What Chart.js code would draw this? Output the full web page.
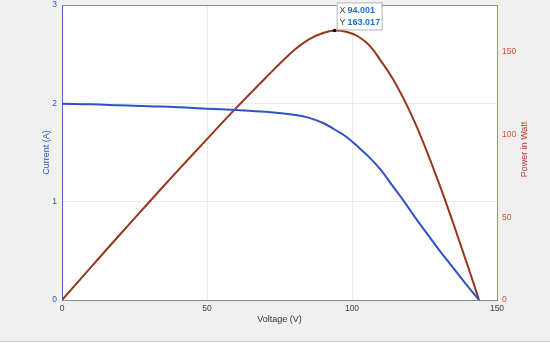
<!DOCTYPE html>
<html>
<head>
<meta charset="utf-8">
<script src="https://cdn.jsdelivr.net/npm/chart.js@4.4.1/dist/chart.umd.min.js"></script>
<style>
  html, body { margin: 0; padding: 0; background: #f0f0f0; }
  #wrap { width: 550px; height: 345px; }
</style>
</head>
<body>
<div id="wrap"><canvas id="ivChart" width="550" height="345"></canvas></div>
<script>
// values
const voltage = [0, 10, 20, 30, 40, 50, 60, 70, 80, 85, 90, 94, 98, 102, 106, 110, 114, 118, 122, 126, 130, 134, 138, 141, 143.8]
const currentA = [1.995, 1.99, 1.98, 1.97, 1.96, 1.945, 1.932, 1.915, 1.885, 1.855, 1.80, 1.734, 1.66, 1.56, 1.45, 1.32, 1.16, 1.00, 0.83, 0.67, 0.51, 0.36, 0.21, 0.10, 0]
const powerW = [0, 19.9, 39.6, 59.1, 78.4, 97.3, 116, 134, 151, 157.5, 161.5, 163, 162.2, 159.5, 154, 144.5, 134, 121, 106, 89, 70.5, 51, 30.5, 15, 0]

const xTicks = [0, 50, 100, 150]
const leftTicks = [0, 1, 2, 3]
const rightTicks = [0, 50, 100, 150]
const rightMax = 178.4

const tipX = 94.001
const tipY = 163.017

const xTitle = 'Voltage (V)'
const leftTitle = 'Current (A)'
const rightTitle = 'Power in Watt'

const FONT = "'Liberation Sans', Arial, Helvetica, sans-serif"
const BLUE = '#2f52c4'
const RED = '#98361a'

function pts(ys) {
  return voltage.map((v, i) => ({ x: v, y: ys[i] }))
}

const framePlugin = {
  id: 'frame',
  beforeDraw(chart) {
    const { ctx, chartArea: a, width, height } = chart
    ctx.save()
    ctx.fillStyle = '#f0f0f0'
    ctx.fillRect(0, 0, width, height)
    ctx.fillStyle = '#ffffff'
    ctx.fillRect(a.left, a.top, a.right - a.left, a.bottom - a.top)
    ctx.fillRect(0, 342, width, height - 342)
    ctx.strokeStyle = '#c8c8c8'
    ctx.beginPath()
    ctx.moveTo(0, 341.5)
    ctx.lineTo(width, 341.5)
    ctx.stroke()
    ctx.restore()
  },
  afterDraw(chart) {
    const { ctx, chartArea: a, scales } = chart
    ctx.save()
    // top border
    ctx.strokeStyle = '#8a8a8a'
    ctx.lineWidth = 1
    ctx.beginPath()
    ctx.moveTo(a.left, a.top + 0.5)
    ctx.lineTo(a.right, a.top + 0.5)
    ctx.stroke()

    // axis titles
    ctx.font = '9px ' + FONT
    ctx.textAlign = 'center'
    ctx.textBaseline = 'middle'
    ctx.fillStyle = '#333333'
    ctx.fillText(xTitle, (a.left + a.right) / 2, 320)

    const midY = (a.top + a.bottom) / 2
    ctx.save()
    ctx.translate(47, midY)
    ctx.rotate(-Math.PI / 2)
    ctx.fillStyle = '#3556b0'
    ctx.fillText(leftTitle, 0, 0)
    ctx.restore()

    ctx.save()
    ctx.translate(525, midY - 3)
    ctx.rotate(-Math.PI / 2)
    ctx.fillStyle = '#c0392b'
    ctx.fillText(rightTitle, 0, 0)
    ctx.restore()

    // data tip
    const px = scales.x.getPixelForValue(tipX)
    const py = scales.y1.getPixelForValue(tipY)
    ctx.fillStyle = '#000000'
    ctx.beginPath()
    ctx.arc(px, py, 1.8, 0, Math.PI * 2)
    ctx.fill()

    const bx = px + 2, by = Math.max(0, py - 28), bw = 45, bh = py - by - 1
    ctx.fillStyle = '#ffffff'
    ctx.fillRect(bx, by, bw, bh)
    ctx.strokeStyle = '#b4b4b4'
    ctx.strokeRect(bx + 0.5, by + 0.5, bw, bh)

    ctx.textAlign = 'left'
    ctx.font = '9px ' + FONT
    ctx.fillStyle = '#444444'
    ctx.fillText('X', bx + 3, by + 8)
    ctx.fillText('Y', bx + 3, by + 20)
    ctx.font = 'bold 9px ' + FONT
    ctx.fillStyle = '#1f6fd6'
    ctx.fillText(tipX.toFixed(3), bx + 11, by + 8)
    ctx.fillText(tipY.toFixed(3), bx + 11, by + 20)
    ctx.restore()
  }
}

function noPad(s) {
  s.paddingTop = 0
  s.paddingBottom = 0
}

const ctx = document.getElementById('ivChart')
const chart = new Chart(ctx, {
  type: 'line',
  data: {
    datasets: [{
      label: 'Current',
      data: pts(currentA),
      yAxisID: 'y',
      borderColor: BLUE,
      borderWidth: 2,
      pointRadius: 0,
      tension: 0.4,
      fill: false
    }, {
      label: 'Power',
      data: pts(powerW),
      yAxisID: 'y1',
      borderColor: RED,
      borderWidth: 2,
      pointRadius: 0,
      tension: 0.4,
      fill: false
    }]
  },
  options: {
    responsive: false,
    animation: false,
    layout: { padding: { top: 5, left: 0, right: 0, bottom: 0 } },
    plugins: {
      legend: { display: false },
      tooltip: { enabled: false }
    },
    scales: {
      x: {
        type: 'linear',
        min: 0,
        max: 150,
        afterBuildTicks: (s) => { s.ticks = xTicks.map(v => ({ value: v })) },
        afterFit: (s) => { s.height = 45; s.paddingLeft = 0; s.paddingRight = 0 },
        grid: { color: '#ebebeb', drawTicks: false },
        border: { color: '#8a8a8a' },
        ticks: { color: '#404040', padding: 4, font: { family: FONT, size: 8.5 } }
      },
      y: {
        position: 'left',
        min: 0,
        max: 3,
        afterBuildTicks: (s) => { s.ticks = leftTicks.map(v => ({ value: v })) },
        afterFit: (s) => { s.width = 62; noPad(s) },
        grid: { color: '#ebebeb', drawTicks: false },
        border: { color: '#4a68c0' },
        ticks: { color: '#3556b0', padding: 5, font: { family: FONT, size: 8.5 } }
      },
      y1: {
        position: 'right',
        min: 0,
        max: rightMax,
        afterBuildTicks: (s) => { s.ticks = rightTicks.map(v => ({ value: v })) },
        afterFit: (s) => { s.width = 53; noPad(s) },
        grid: { display: false, drawTicks: false },
        border: { color: '#c87a66' },
        ticks: { color: '#c8553a', padding: 5, font: { family: FONT, size: 8.5 } }
      }
    }
  },
  plugins: [framePlugin]
})
</script>
</body>
</html>
